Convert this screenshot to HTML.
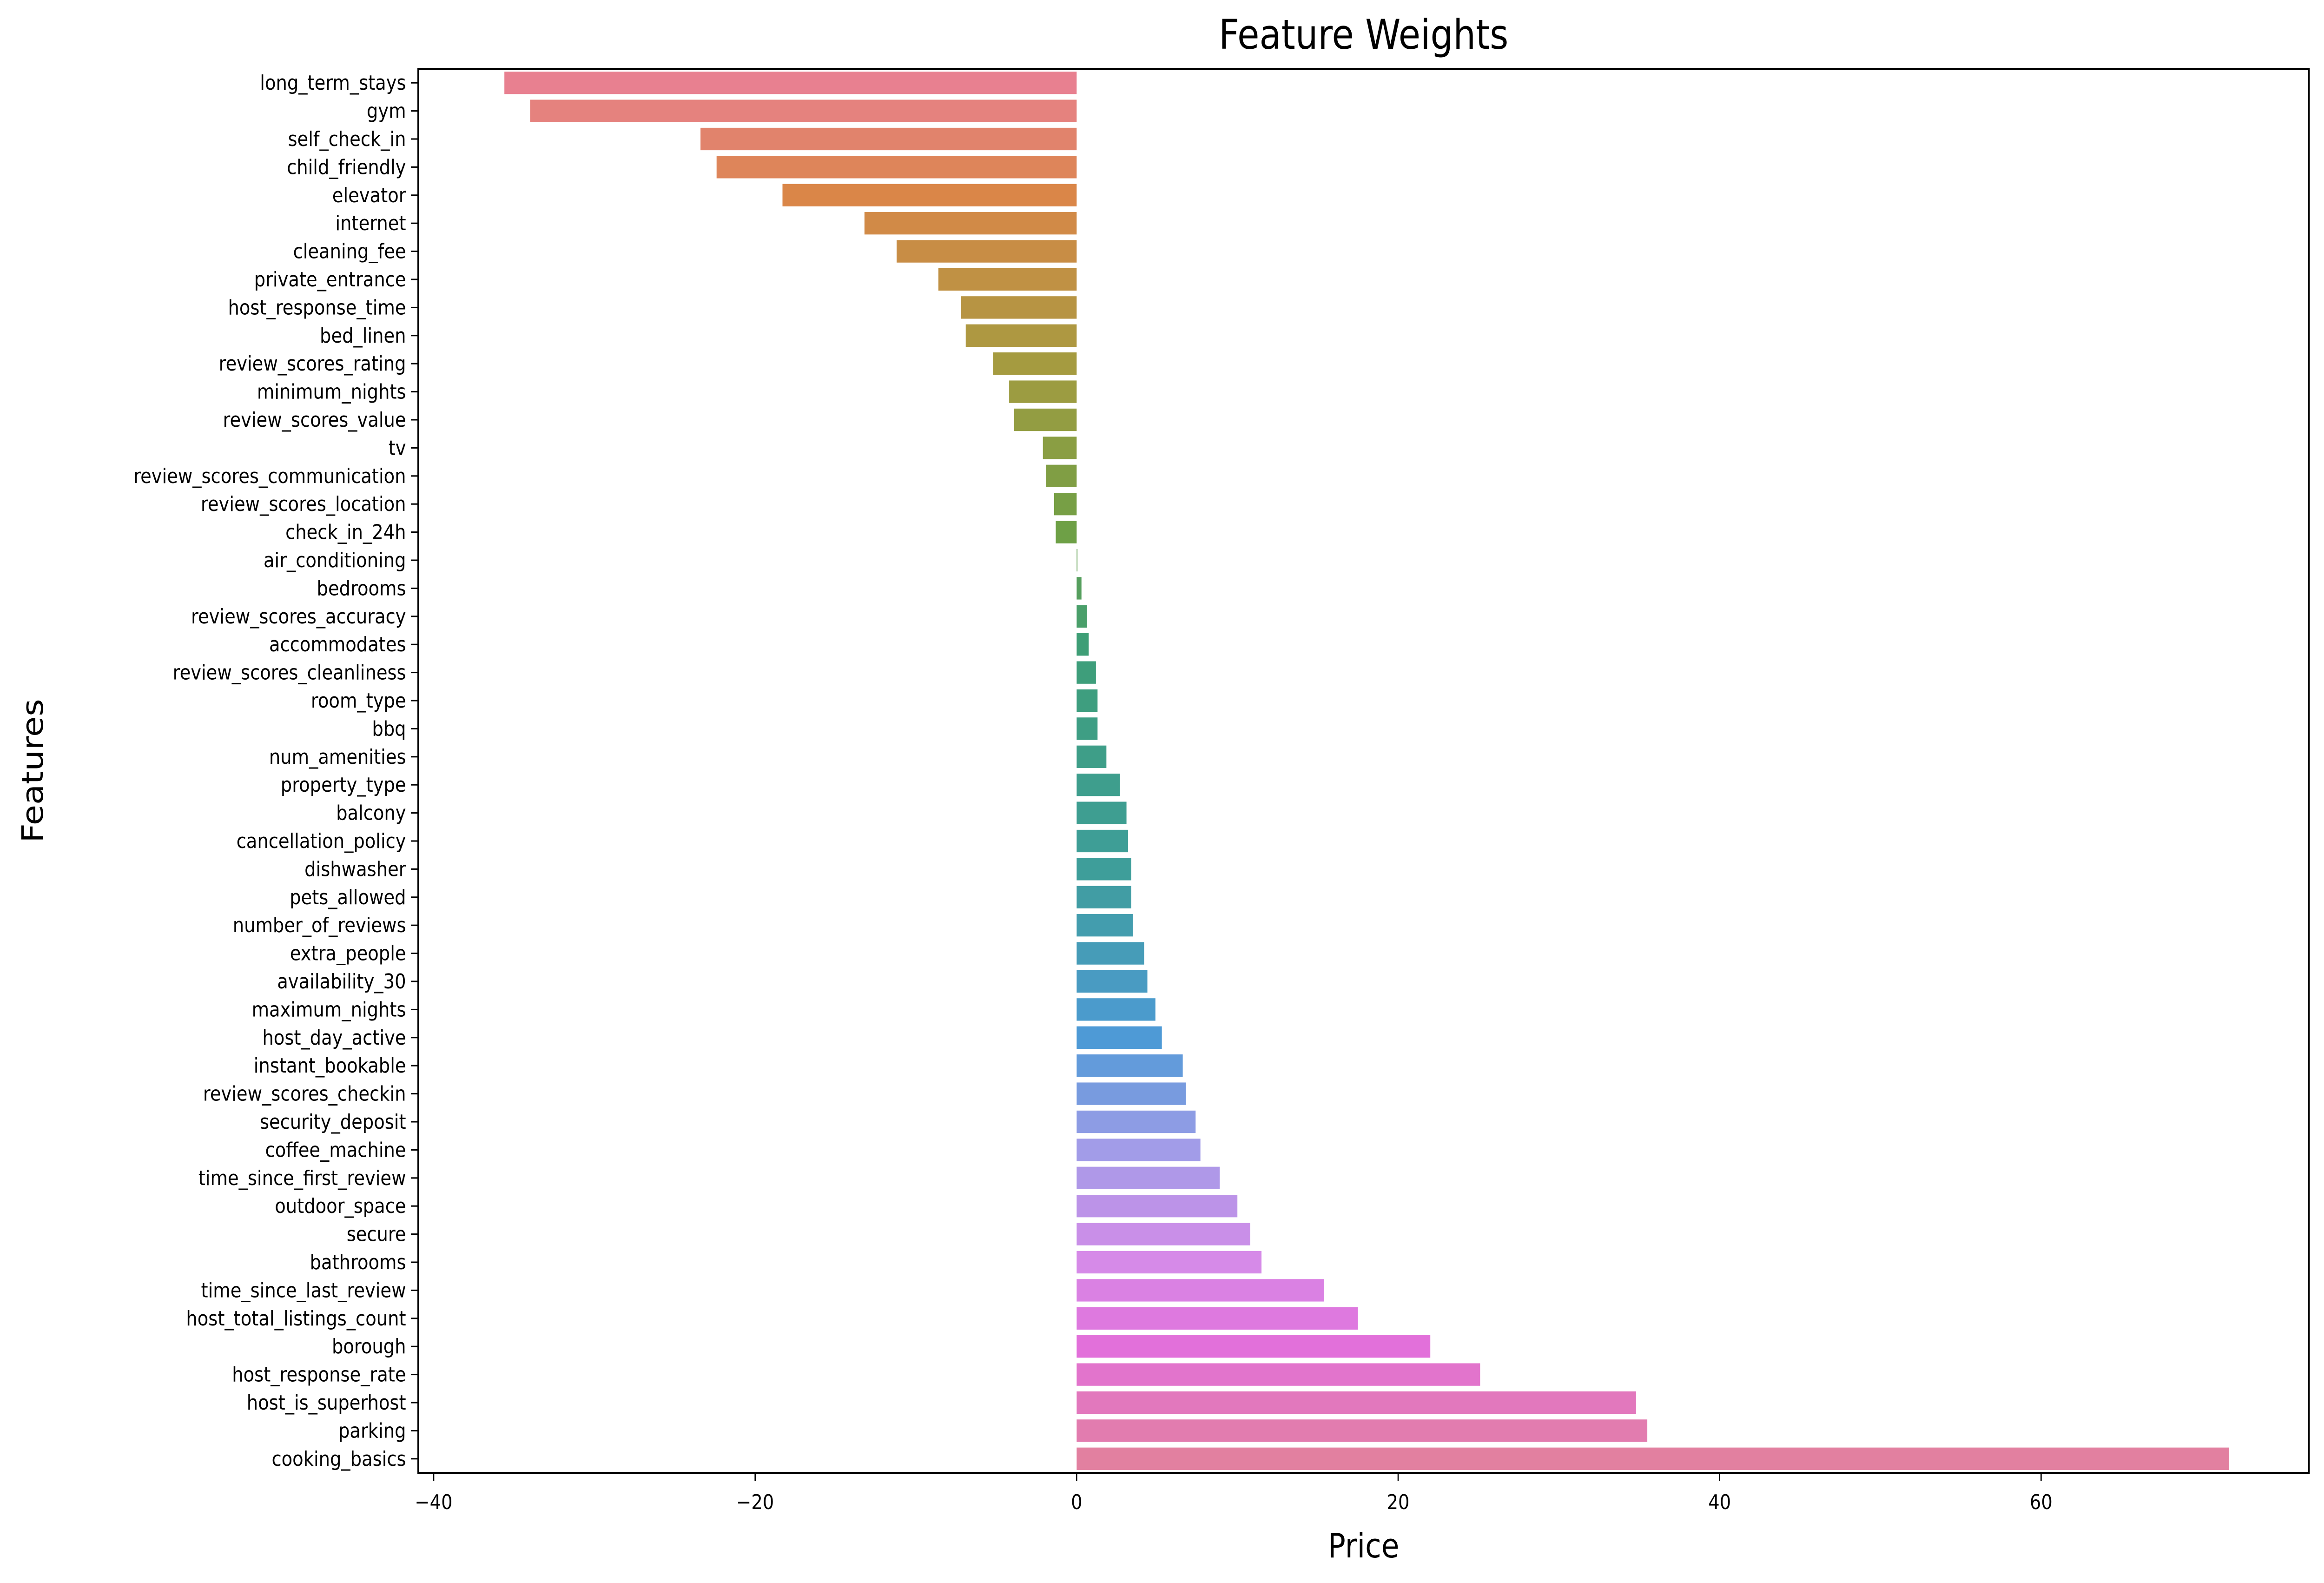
<!DOCTYPE html>
<html><head><meta charset="utf-8"><style>
html,body{margin:0;padding:0;background:#fff;overflow:hidden;width:100vw;height:100vh}
svg{display:block;width:100vw;height:100vh}
svg text{font-family:"DejaVu Sans","Liberation Sans",sans-serif;fill:#000}
</style></head><body>
<svg id="chart" viewBox="0 0 5718 3405" preserveAspectRatio="none" xmlns="http://www.w3.org/2000/svg">
<rect width="5718" height="3405" fill="#fff"/>
<text x="3355" y="105" font-size="88" text-anchor="middle">Feature Weights</text>
<text x="3355" y="3350" font-size="72" text-anchor="middle">Price</text>
<text x="0" y="0" font-size="72" text-anchor="middle" transform="translate(105,1658) rotate(-90)">Features</text>
<g id="bars"></g><g id="yt"></g><g id="xt"></g>
<rect x="1029" y="148" width="4652" height="3020" fill="none" stroke="#000" stroke-width="4"/>
</svg>
<script>
const categories=["long_term_stays","gym","self_check_in","child_friendly","elevator","internet","cleaning_fee","private_entrance","host_response_time","bed_linen","review_scores_rating","minimum_nights","review_scores_value","tv","review_scores_communication","review_scores_location","check_in_24h","air_conditioning","bedrooms","review_scores_accuracy","accommodates","review_scores_cleanliness","room_type","bbq","num_amenities","property_type","balcony","cancellation_policy","dishwasher","pets_allowed","number_of_reviews","extra_people","availability_30","maximum_nights","host_day_active","instant_bookable","review_scores_checkin","security_deposit","coffee_machine","time_since_first_review","outdoor_space","secure","bathrooms","time_since_last_review","host_total_listings_count","borough","host_response_rate","host_is_superhost","parking","cooking_basics"];
const values=[-35.6,-34.0,-23.4,-22.4,-18.3,-13.2,-11.2,-8.6,-7.2,-6.9,-5.2,-4.2,-3.9,-2.1,-1.9,-1.4,-1.3,0.05,0.3,0.65,0.75,1.2,1.3,1.3,1.85,2.7,3.1,3.2,3.4,3.4,3.5,4.2,4.4,4.9,5.3,6.6,6.8,7.4,7.7,8.9,10.0,10.8,11.5,15.4,17.5,22.0,25.1,34.8,35.5,71.7];
const xTicks=[-40,-20,0,20,40,60];
const NS="http://www.w3.org/2000/svg";
const L=1029,R=5681,T=148,B=3168;
const x=v=>2649+(v)*39.55;
const band=(B-T)/categories.length;
const y=i=>T+i*band;
const anchors=[[0,[232,128,144]],[4,[218,134,72]],[10,[165,155,64]],[16,[110,160,70]],[20,[62,158,118]],[28,[62,158,154]],[34,[78,154,214]],[38,[162,156,232]],[42,[214,138,232]],[45,[226,112,218]],[49,[226,128,160]]];
function col(i){for(let k=0;k<anchors.length-1;k++){const[a,ca]=anchors[k],[b,cb]=anchors[k+1];if(i>=a&&i<=b){const t=(i-a)/(b-a);return"rgb("+ca.map((c,j)=>Math.round(c+(cb[j]-c)*t)).join(",")+")";}}return"rgb(226,128,160)";}
const gb=document.getElementById('bars'),gy=document.getElementById('yt'),gx=document.getElementById('xt');
categories.forEach((c,i)=>{
 const v=values[i];const r=document.createElementNS(NS,'rect');
 r.setAttribute('x',Math.min(x(0),x(v)));r.setAttribute('width',Math.max(1,Math.abs(x(v)-x(0))));
 r.setAttribute('y',y(i)+band*0.1);r.setAttribute('height',band*0.8);r.setAttribute('fill',col(i));
 
 
 gb.appendChild(r);
 const cy=y(i)+band/2;
 const tk=document.createElementNS(NS,'line');tk.setAttribute('x1',L-18);tk.setAttribute('x2',L);tk.setAttribute('y1',cy);tk.setAttribute('y2',cy);tk.setAttribute('stroke','#000');tk.setAttribute('stroke-width',3);
 
 
 gy.appendChild(tk);
 const t=document.createElementNS(NS,'text');t.setAttribute('x',L-30);t.setAttribute('y',cy+15);t.setAttribute('font-size',44);t.setAttribute('text-anchor','end');t.textContent=c;
 
 
 gy.appendChild(t);
});
xTicks.forEach(v=>{
 const tk=document.createElementNS(NS,'line');tk.setAttribute('x1',x(v));tk.setAttribute('x2',x(v));tk.setAttribute('y1',B);tk.setAttribute('y2',B+17);tk.setAttribute('stroke','#000');tk.setAttribute('stroke-width',3);
 
 
 gx.appendChild(tk);
 const t=document.createElementNS(NS,'text');t.setAttribute('x',x(v));t.setAttribute('y',B+78);t.setAttribute('font-size',44);t.setAttribute('text-anchor','middle');t.textContent=v<0?'\u2212'+(-v):String(v);
 
 
 gx.appendChild(t);
});
</script>
</body></html>
